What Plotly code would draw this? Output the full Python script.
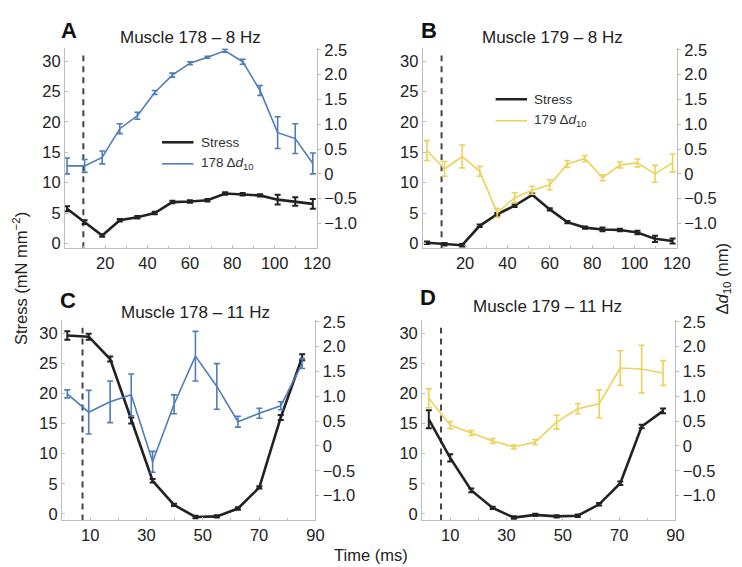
import plotly.graph_objects as go

# ---------------- data ----------------
time_8hz = [2.0, 10.3, 18.6, 26.9, 35.2, 43.4, 51.7, 60.0, 68.3, 76.6, 84.9, 93.1, 101.4, 109.7, 118.0]
time_11hz_178 = [1.9, 9.5, 17.1, 24.6, 32.2, 39.8, 47.4, 55.0, 62.5, 70.1, 77.7, 85.3]
time_11hz_179 = [2.4, 10.0, 17.5, 25.1, 32.6, 40.2, 47.8, 55.3, 62.9, 70.4, 78.0, 85.6]

stress_178_8 = [5.7, 3.5, 1.3, 3.8, 4.3, 5.0, 6.8, 6.9, 7.1, 8.2, 8.1, 7.9, 7.2, 6.9, 6.5]
stress_178_8_err = [0.4, 0.3, 0.2, 0.2, 0.2, 0.2, 0.2, 0.2, 0.2, 0.2, 0.2, 0.2, 0.8, 0.7, 0.8]
dd_178_8 = [0.16, 0.16, 0.33, 0.91, 1.17, 1.64, 1.99, 2.23, 2.35, 2.48, 2.26, 1.68, 0.83, 0.71, 0.21]
dd_178_8_err = [0.16, 0.13, 0.13, 0.10, 0.07, 0.04, 0.04, 0.03, 0.02, 0.03, 0.05, 0.10, 0.32, 0.30, 0.21]

stress_179_8 = [0.1, -0.15, -0.3, 2.9, 4.8, 6.2, 8.0, 5.6, 3.5, 2.6, 2.3, 2.2, 1.8, 0.75, 0.4]
stress_179_8_err = [0.2, 0.2, 0.2, 0.2, 0.2, 0.2, 0.2, 0.2, 0.2, 0.2, 0.3, 0.2, 0.3, 0.5, 0.4]
dd_179_8 = [0.47, 0.10, 0.35, 0.05, -0.79, -0.48, -0.33, -0.22, 0.20, 0.31, -0.08, 0.18, 0.22, 0.0, 0.22]
dd_179_8_err = [0.20, 0.15, 0.23, 0.10, 0.09, 0.10, 0.08, 0.10, 0.07, 0.06, 0.06, 0.06, 0.08, 0.17, 0.18]

stress_178_11 = [29.6, 29.4, 25.7, 15.5, 5.5, 1.5, -0.5, -0.4, 0.9, 4.4, 16.0, 26.0]
stress_178_11_err = [0.7, 0.5, 0.4, 0.5, 0.3, 0.2, 0.2, 0.2, 0.2, 0.2, 0.4, 0.5]
dd_178_11 = [1.05, 0.68, 0.89, 1.03, -0.32, 0.84, 1.81, 1.20, 0.49, 0.66, 0.81, 1.66]
dd_178_11_err = [0.08, 0.44, 0.42, 0.42, 0.21, 0.19, 0.50, 0.46, 0.11, 0.10, 0.08, 0.10]

stress_179_11 = [15.7, 9.3, 3.9, 1.0, -0.6, -0.15, -0.4, -0.3, 1.6, 5.1, 14.5, 17.1]
stress_179_11_err = [1.5, 0.6, 0.3, 0.2, 0.2, 0.2, 0.2, 0.2, 0.2, 0.3, 0.3, 0.4]
dd_179_11 = [0.96, 0.42, 0.26, 0.10, -0.02, 0.08, 0.48, 0.75, 0.85, 1.57, 1.55, 1.47]
dd_179_11_err = [0.19, 0.07, 0.05, 0.05, 0.04, 0.05, 0.14, 0.10, 0.28, 0.35, 0.48, 0.25]

dash_times = [9.7, 8.9, 7.3, 6.75]
dash_top = 30.9

panel_titles = ["Muscle 178 – 8 Hz", "Muscle 179 – 8 Hz", "Muscle 178 – 11 Hz", "Muscle 179 – 11 Hz"]
panel_letters = ["A", "B", "C", "D"]
stress_ticks = [0, 5, 10, 15, 20, 25, 30]
dd_ticks = [-1.0, -0.5, 0, 0.5, 1.0, 1.5, 2.0, 2.5]
dd_ticktext = ["−1.0", "−0.5", "0", "0.5", "1.0", "1.5", "2.0", "2.5"]
time_ticks_8 = [20, 40, 60, 80, 100, 120]
time_ticks_11 = [10, 30, 50, 70, 90]

# ---------------- style ----------------
W, H = 742, 567
FONT = "Arial, Liberation Sans, Helvetica, sans-serif"
BLACK = "#222222"
BLUE = "#4f7cba"
YELLOW = "#ecd25a"
AXIS = "#bdbdbd"
TICK_SIZE = 16.5

def px(x):
    return x / W

def py(y):
    return 1 - y / H

panels = [
    dict(t=time_8hz, s=stress_178_8, se=stress_178_8_err, d=dd_178_8, de=dd_178_8_err, col=BLUE,
         xd=[58, 315], yd=[33, 237.3], xr=[1, 120], yl=[-0.8, 32.1], xt=time_ticks_8),
    dict(t=time_8hz, s=stress_179_8, se=stress_179_8_err, d=dd_179_8, de=dd_179_8_err, col=YELLOW,
         xd=[422.7, 681.7], yd=[33, 237.3], xr=[0, 120], yl=[-0.8, 32.1], xt=time_ticks_8),
    dict(t=time_11hz_178, s=stress_178_11, se=stress_178_11_err, d=dd_178_11, de=dd_178_11_err, col=BLUE,
         xd=[55, 313.3], yd=[311, 515.3], xr=[0, 90], yl=[-1.07, 32.1], xt=time_ticks_11),
    dict(t=time_11hz_179, s=stress_179_11, se=stress_179_11_err, d=dd_179_11, de=dd_179_11_err, col=YELLOW,
         xd=[422, 680.3], yd=[311, 515.3], xr=[0, 90], yl=[-1.07, 32.1], xt=time_ticks_11),
]

fig = go.Figure()
layout = dict(
    width=W, height=H, margin=dict(l=0, r=0, t=0, b=0),
    paper_bgcolor="white", plot_bgcolor="white",
    showlegend=False, font=dict(family=FONT, color=BLACK, size=15),
)
annotations = []
shapes = []

for i, p in enumerate(panels):
    n = i + 1
    xa = "x" if n == 1 else f"x{n}"
    yl_id = 2 * i + 1
    yr_id = 2 * i + 2
    ya_l = "y" if yl_id == 1 else f"y{yl_id}"
    ya_r = f"y{yr_id}"
    xkey = "xaxis" if n == 1 else f"xaxis{n}"
    ylkey = "yaxis" if yl_id == 1 else f"yaxis{yl_id}"
    yrkey = f"yaxis{yr_id}"

    # dashed vertical marker
    fig.add_trace(go.Scatter(x=[dash_times[i], dash_times[i]], y=[p["yl"][0], dash_top],
                             mode="lines", line=dict(color="#444444", width=2, dash="6px,5px"),
                             xaxis=xa, yaxis=ya_l, hoverinfo="skip"))
    # d10 series (right axis)
    fig.add_trace(go.Scatter(x=p["t"], y=p["d"], mode="lines",
                             line=dict(color=p["col"], width=1.6),
                             error_y=dict(type="data", array=p["de"], color=p["col"], thickness=1.6, width=3),
                             xaxis=xa, yaxis=ya_r))
    # stress (left axis)
    fig.add_trace(go.Scatter(x=p["t"], y=p["s"], mode="lines",
                             line=dict(color=BLACK, width=2.6),
                             error_y=dict(type="data", array=p["se"], color=BLACK, thickness=2, width=3),
                             xaxis=xa, yaxis=ya_l))

    layout[xkey] = dict(domain=[px(p["xd"][0]), px(p["xd"][1])], range=p["xr"], anchor=ya_l,
                        showline=True, linecolor=AXIS, linewidth=1, mirror=False,
                        ticks="inside", ticklen=3, tickcolor=AXIS, tickvals=p["xt"],
                        minor=dict(ticks="inside", ticklen=2, tickcolor=AXIS, dtick=10),
                        showgrid=False, zeroline=False, tickfont=dict(size=TICK_SIZE, color=BLACK))
    layout[ylkey] = dict(domain=[py(p["yd"][1]), py(p["yd"][0])], range=p["yl"], anchor=xa,
                         showline=True, linecolor=AXIS, linewidth=1,
                         ticks="inside", ticklen=3, tickcolor=AXIS, tickvals=stress_ticks,
                         showgrid=False, zeroline=False, tickfont=dict(size=TICK_SIZE, color=BLACK))
    layout[yrkey] = dict(domain=[py(p["yd"][1]), py(p["yd"][0])], range=[-1.5, 2.53], anchor=xa,
                         overlaying=ya_l, side="right",
                         showline=True, linecolor=AXIS, linewidth=1,
                         ticks="outside", ticklen=3, tickcolor=AXIS,
                         tickvals=dd_ticks, ticktext=dd_ticktext,
                         showgrid=False, zeroline=False, tickfont=dict(size=TICK_SIZE, color=BLACK))

title_pos = [(186, 22), (555, 22), (191, 303), (550, 297)]
letter_pos = [(62, 15), (429, 15), (61, 291), (428, 288)]
for i in range(4):
    annotations.append(dict(x=px(title_pos[i][0]), y=py(title_pos[i][1]), xref="paper", yref="paper",
                            text=panel_titles[i], showarrow=False, xanchor="center", yanchor="middle",
                            font=dict(size=17, color=BLACK)))
    annotations.append(dict(x=px(letter_pos[i][0]), y=py(letter_pos[i][1]), xref="paper", yref="paper",
                            text=f"<b>{panel_letters[i]}</b>", showarrow=False, xanchor="center",
                            yanchor="middle", font=dict(size=22, color="#111111")))

# axis titles
annotations.append(dict(x=px(13), y=py(268), xref="paper", yref="paper", textangle=-90,
                        text="Stress (mN mm<sup>−2</sup>)", showarrow=False,
                        xanchor="center", yanchor="middle", font=dict(size=16.5, color=BLACK)))
annotations.append(dict(x=px(729), y=py(268), xref="paper", yref="paper", textangle=-90,
                        text="Δ<i>d</i><sub>10</sub> (nm)", showarrow=False,
                        xanchor="center", yanchor="middle", font=dict(size=16.5, color=BLACK)))
annotations.append(dict(x=px(370), y=py(551), xref="paper", yref="paper",
                        text="Time (ms)", showarrow=False,
                        xanchor="center", yanchor="middle", font=dict(size=16.5, color=BLACK)))

# in-panel legends
legends = [
    dict(x0=157, x1=189, ys=129, yd=151, tx=195, label="178 Δ<i>d</i><sub>10</sub>", col=BLUE),
    dict(x0=497, x1=529, ys=85, yd=107, tx=534, label="179 Δ<i>d</i><sub>10</sub>", col=YELLOW),
]
for lg in legends:
    shapes.append(dict(type="line", xref="paper", yref="paper", x0=px(lg["x0"]), x1=px(lg["x1"]),
                       y0=py(lg["ys"]), y1=py(lg["ys"]), line=dict(color=BLACK, width=2.6)))
    shapes.append(dict(type="line", xref="paper", yref="paper", x0=px(lg["x0"]), x1=px(lg["x1"]),
                       y0=py(lg["yd"]), y1=py(lg["yd"]), line=dict(color=lg["col"], width=1.6)))
    annotations.append(dict(x=px(lg["tx"]), y=py(lg["ys"]), xref="paper", yref="paper", text="Stress",
                            showarrow=False, xanchor="left", yanchor="middle",
                            font=dict(size=13.5, color="#333333")))
    annotations.append(dict(x=px(lg["tx"]), y=py(lg["yd"]), xref="paper", yref="paper", text=lg["label"],
                            showarrow=False, xanchor="left", yanchor="middle",
                            font=dict(size=13.5, color="#333333")))

layout["annotations"] = annotations
layout["shapes"] = shapes
fig.update_layout(**layout)
fig.write_html("out.html")
